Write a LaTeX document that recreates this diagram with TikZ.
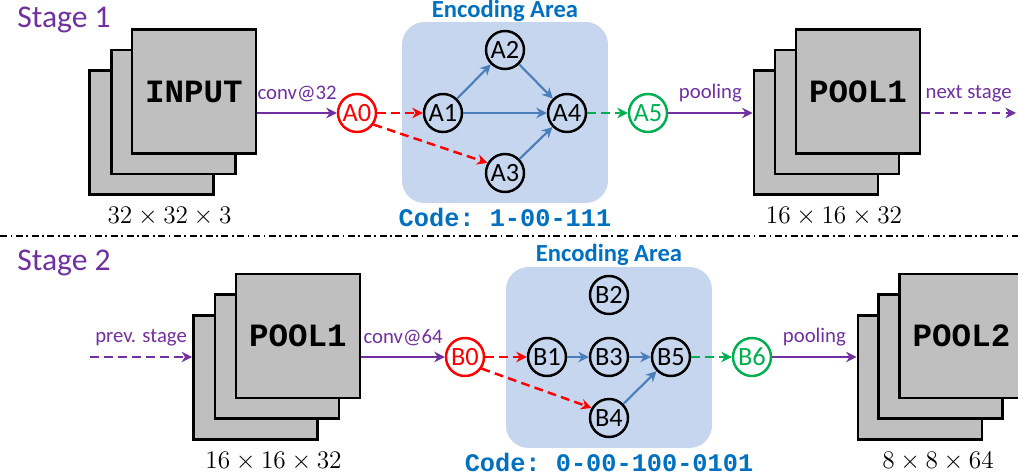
\documentclass[tikz,border=0pt]{standalone}
\usepackage{fontspec}
\setmainfont{Carlito}
\setmonofont{Liberation Mono}
\usetikzlibrary{arrows.meta,positioning,calc}

\definecolor{stagepurple}{HTML}{7030A0}
\definecolor{codeblue}{HTML}{0070C0}
\definecolor{edgeblue}{HTML}{4A7EBB}
\definecolor{areablue}{HTML}{C6D6EE}
\definecolor{mapgray}{HTML}{BFBFBF}
\definecolor{outgreen}{HTML}{00B050}

\tikzset{
  fmap/.style={draw=black, line width=1.6pt, fill=mapgray, minimum size=2.48cm, inner sep=0pt,
    font=\fontsize{18.5}{20}\selectfont\ttfamily\bfseries},
  sizetext/.style={inner sep=0pt, font=\fontsize{15.5}{18}\selectfont},
  stagetext/.style={inner sep=0pt, text=stagepurple, font=\fontsize{18}{20}\selectfont},
  unit/.style={circle, draw=black, line width=1.4pt, minimum size=0.76cm, inner sep=0pt,
    font=\fontsize{15}{16}\selectfont},
  inunit/.style={unit, draw=red, text=red},
  outunit/.style={unit, draw=outgreen, text=outgreen},
  area/.style={fill=areablue, rounded corners=0.45cm, minimum width=4.12cm, minimum height=3.62cm, inner sep=0pt},
  areatitle/.style={inner sep=0pt, anchor=base, text=codeblue, font=\fontsize{14}{16}\selectfont\bfseries},
  codetext/.style={inner sep=0pt, text=codeblue, font=\fontsize{14.4}{16}\selectfont\ttfamily\bfseries},
  flowlabel/.style={above=0.2cm, inner sep=0pt, text=stagepurple, font=\fontsize{11.8}{13}\selectfont},
  conv/.style={->, draw=stagepurple, line width=1.4pt},
  convdash/.style={conv, dash pattern=on 5pt off 3pt},
  inedge/.style={->, draw=red, line width=1.4pt, dash pattern=on 5pt off 3pt},
  outedge/.style={->, draw=outgreen, line width=1.4pt, dash pattern=on 5pt off 3pt},
  opedge/.style={->, draw=edgeblue, line width=1.2pt}
}

\begin{document}
\begin{tikzpicture}[x=0.02cm, y=-0.02cm, >={Stealth[length=6pt,width=6pt]}]
\useasboundingbox (0,0) rectangle (1018,475);
\clip (0,0) rectangle (1018,475);

% ---- stage 1
\node[stagetext, anchor=base west] (st1) at (17,28) {Stage 1};

\node[fmap] (in3) at (151.5,132.5) {};
\node[fmap] (in2) at (173.5,112) {};
\node[fmap] (in1) at (194,91.5) {INPUT};
\node[sizetext] (insize) at ($(in3.south)+(18,21)$) {$32\times32\times3$};

\node[area] (area1) at (505,112.5) {};
\node[areatitle] (title1) at ($(area1.north)+(0,-4.5)$) {Encoding Area};
\node[codetext, below=0.08cm of area1] (code1) {Code: 1-00-111};

\node[inunit]  (a0) at (357,113) {A0};
\node[unit]    (a1) at (443,113) {A1};
\node[unit]    (a2) at (505,50)  {A2};
\node[unit]    (a3) at (505,173) {A3};
\node[unit]    (a4) at (567,113) {A4};
\node[outunit] (a5) at (648,113) {A5};

\node[fmap] (pl3) at (816,132.5) {};
\node[fmap] (pl2) at (837,112) {};
\node[fmap] (pl1) at (858,91.5) {POOL1};
\node[sizetext] (plsize) at ($(pl3.south)+(18,21)$) {$16\times16\times32$};
\coordinate (nxt) at (1016,113);

\draw[conv] (in1.east |- a0) -- node[flowlabel] {conv@32} (a0);
\draw[inedge] (a0) -- (a1);
\draw[inedge] (a0.-35) -- (a3.150);
\draw[opedge] (a1) -- (a2);
\draw[opedge] (a1) -- (a4);
\draw[opedge] (a2) -- (a4);
\draw[opedge] (a3) -- (a4);
\draw[outedge] (a4) -- (a5);
\draw[conv] (a5) -- node[flowlabel] {pooling} (a5 -| pl3.west);
\draw[convdash] (pl1.east |- a5) -- node[flowlabel] {next stage} (nxt);

% ---- separator
\coordinate (sepl) at (0,236);
\coordinate (sepr) at (1018,236);
\draw[line width=0.6pt, dash pattern=on 4pt off 2pt on 1pt off 2pt] (sepl) -- (sepr);

% ---- stage 2
\node[stagetext, anchor=base west] (st2) at (17,271) {Stage 2};

\node[fmap] (pa3) at (255.5,377.5) {};
\node[fmap] (pa2) at (277,356.5) {};
\node[fmap] (pa1) at (298,336) {POOL1};
\node[sizetext] (pasize) at ($(pa3.south)+(18,21)$) {$16\times16\times32$};
\coordinate (prv) at (90,357);

\node[area] (area2) at (609,357.5) {};
\node[areatitle] (title2) at ($(area2.north)+(0,-5)$) {Encoding Area};
\node[codetext, below=0.08cm of area2] (code2) {Code: 0-00-100-0101};

\node[inunit]  (b0) at (465,357) {B0};
\node[unit]    (b1) at (547,357) {B1};
\node[unit]    (b2) at (609,295) {B2};
\node[unit]    (b3) at (609,357) {B3};
\node[unit]    (b4) at (609,418) {B4};
\node[unit]    (b5) at (671,357) {B5};
\node[outunit] (b6) at (752,357) {B6};

\node[fmap] (pb3) at (920,377.5) {};
\node[fmap] (pb2) at (940.5,356.5) {};
\node[fmap] (pb1) at (961.5,336) {POOL2};
\node[sizetext] (pbsize) at ($(pb3.south)+(18,21)$) {$8\times8\times64$};

\draw[convdash] (prv) -- node[flowlabel] {prev. stage} (prv -| pa3.west);
\draw[conv] (pa1.east |- b0) -- node[flowlabel] {conv@64} (b0);
\draw[inedge] (b0) -- (b1);
\draw[inedge] (b0.-35) -- (b4.150);
\draw[opedge] (b1) -- (b3);
\draw[opedge] (b3) -- (b5);
\draw[opedge] (b4) -- (b5);
\draw[outedge] (b5) -- (b6);
\draw[conv] (b6) -- node[flowlabel] {pooling} (b6 -| pb3.west);
\end{tikzpicture}
\end{document}
